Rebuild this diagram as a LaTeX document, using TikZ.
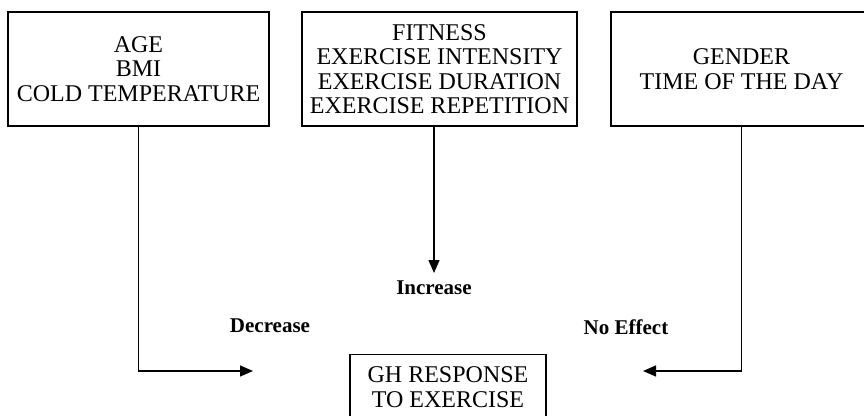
\documentclass[tikz,border=0pt]{standalone}
\usepackage{fontspec}
\setmainfont{Liberation Serif}
\usetikzlibrary{arrows.meta}
\tikzset{
  factorbox/.style={draw, line width=1.4pt, rectangle, align=center, inner sep=0pt,
    font=\fontsize{24}{24.5}\selectfont},
  efflabel/.style={font=\fontsize{21}{24}\selectfont\bfseries, inner sep=0pt},
  conn/.style={line width=1.4pt, -{Triangle[length=13pt,width=11pt]}}
}
\begin{document}
\begin{tikzpicture}[x=1pt,y=-1pt]
\clip (0,0) rectangle (864,415);
\node[factorbox, minimum width=261pt, minimum height=114pt] (b1) at (138.5,69) {AGE\\BMI\\COLD TEMPERATURE};
\node[factorbox, minimum width=275pt, minimum height=114pt] (b2) at (439.5,69) {FITNESS\\EXERCISE INTENSITY\\EXERCISE DURATION\\EXERCISE REPETITION};
\node[factorbox, minimum width=261pt, minimum height=114pt] (b3) at (741.5,69) {GENDER\\TIME OF THE DAY};
\node[factorbox, minimum width=196pt, minimum height=90pt, anchor=north, inner ysep=0pt] (gh) at (448,354) {\rule{0pt}{28pt}GH RESPONSE\\TO EXERCISE\\[30pt]};
\node[efflabel] (inc) at (434,288) {Increase};
\node[efflabel] (dec) at (270,326) {Decrease};
\node[efflabel] (noe) at (626,327) {No Effect};
\coordinate (decEnd) at (253,371);
\coordinate (noeEnd) at (643,371);
\coordinate (incEnd) at (434,273);
\draw[conn] (b1.south) |- (decEnd);
\draw[conn] (b3.south) |- (noeEnd);
\draw[conn] (b2.south -| incEnd) -- (incEnd);
\end{tikzpicture}
\end{document}
